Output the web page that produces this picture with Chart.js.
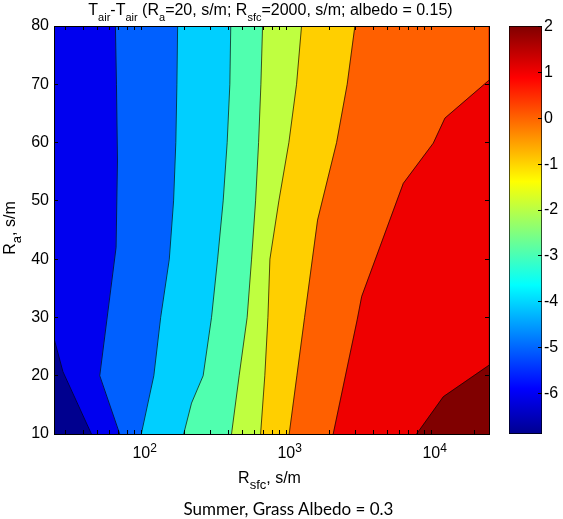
<!DOCTYPE html>
<html><head><meta charset="utf-8">
<script src="https://cdn.jsdelivr.net/npm/chart.js@4.4.1/dist/chart.umd.min.js"></script>
<style>
html,body{margin:0;padding:0;background:#fff;}
#wrap{position:relative;width:563px;height:519px;overflow:hidden;font-family:"Liberation Sans",Arial,sans-serif;color:#000;}
canvas{position:absolute;left:0;top:0;}
.t{position:absolute;white-space:nowrap;font-size:16px;line-height:16px;}
.s{position:relative;top:6px;font-size:11px;line-height:0;}
.s2{position:relative;top:6px;font-size:13px;line-height:0;}
</style></head><body>
<div id="wrap">
<canvas id="main" width="563" height="519"></canvas>
<canvas id="cbar" width="563" height="519"></canvas>
<div class="t" style="left:0;width:541px;top:1.5px;text-align:center;">T<span class="s">air</span>-T<span class="s">air</span> (R<span class="s">a</span>=20, s/m; R<span class="s">sfc</span>=2000, s/m; albedo = 0.15)</div>
<div class="t" style="left:0;width:539px;top:469.5px;text-align:center;font-size:16px;">R<span class="s2">sfc</span>, s/m</div>
<div class="t" style="left:-50.5px;width:120px;top:219.5px;text-align:center;transform:rotate(-90deg);">R<span class="s2">a</span>, s/m</div>
<div class="t" style="left:0;width:577px;top:500.8px;text-align:center;font-family:Lato,'Open Sans',sans-serif;font-size:17px;">Summer, Grass Albedo = 0.3</div>
</div>
<script>
// ---- axis ranges and ticks ----
const rsfcMin = 25, rsfcMax = 25000;       // R_sfc, s/m (log axis)
const raMin = 10, raMax = 80;              // R_a, s/m
const xTickVals = [30,40,50,60,70,80,90,100,200,300,400,500,600,700,800,900,1000,2000,3000,4000,5000,6000,7000,8000,9000,10000,20000];
const xMajor = [100, 1000, 10000];
const xMajorExp = ['2', '3', '4'];
const yTickVals = [10,20,30,40,50,60,70,80];
const cbMin = -6.89, cbMax = 2.02;
const cbTicks = [-6,-5,-4,-3,-2,-1,0,1,2];

// ---- contour levels (T_air difference) ----
const contourLevels = [-6, -5, -4, -3, -2, -1, 0, 1, 2];

// ---- contour lines: R_sfc at R_a ----
const cM6_ra   = [26.4, 20.7, 10];
const cM6_rsfc = [25, 28.8, 45.3];
const cM5_ra   = [80, 70, 57, 42, 20, 10];
const cM5_rsfc = [66.3, 67.4, 68.5, 67, 51.7, 71];
const cM4_ra   = [80, 70, 60, 50, 40, 30, 20, 10];
const cM4_rsfc = [178, 176, 173, 167, 156, 136, 122, 100];
const cM3_ra   = [80, 70, 60, 50, 40, 30, 20, 15.3, 10];
const cM3_rsfc = [414, 408, 391, 367, 336, 305, 267, 222, 196];
const cM2_ra   = [80, 70, 60, 50, 40, 30, 20, 10];
const cM2_rsfc = [686, 668, 644, 614, 576, 537, 473, 419];
const cM1_ra   = [80, 70, 60, 50, 40, 30, 20, 10];
const cM1_rsfc = [1274, 1177, 1042, 889, 771, 747, 711, 665];
const c0_ra    = [80, 70, 60, 46.7, 30, 20, 10];
const c0_rsfc  = [2972, 2630, 2223, 1643, 1337, 1183, 1047];
const c1_ra    = [70.7, 64.2, 59.9, 53.0, 33.6, 29.6, 10];
const c1_rsfc  = [25000, 12420, 10320, 6410, 3310, 3083, 2106];
const c2_ra    = [21.8, 16.4, 10];
const c2_rsfc  = [25000, 12100, 7920];

// ---- styles ----
const belowColor = 'rgb(0,0,143)';
const bandColors = ['rgb(0,0,239)','rgb(0,96,255)','rgb(0,207,255)','rgb(80,255,175)','rgb(191,255,64)','rgb(255,207,0)','rgb(255,96,0)','rgb(239,0,0)','rgb(128,0,0)'];
const lineColor = 'rgba(0,0,0,0.85)';
const fontFam = '"Liberation Sans", Arial, sans-serif';

const contours = [
  [cM6_rsfc, cM6_ra], [cM5_rsfc, cM5_ra], [cM4_rsfc, cM4_ra], [cM3_rsfc, cM3_ra],
  [cM2_rsfc, cM2_ra], [cM1_rsfc, cM1_ra], [c0_rsfc, c0_ra], [c1_rsfc, c1_ra], [c2_rsfc, c2_ra]
];

// filled region "value above level k" = right of contour k, closed along the plot frame
function regionDataset(k) {
  const [xs, ys] = contours[k];
  const pts = [];
  if (xs[0] === rsfcMin && ys[0] < raMax) pts.push({x: rsfcMin, y: raMax});
  xs.forEach((x, i) => pts.push({x: x, y: ys[i]}));
  pts.push({x: rsfcMax, y: raMin});
  pts.push({x: rsfcMax, y: raMax});
  return {
    label: 'T > ' + contourLevels[k],
    data: pts, showLine: true, fill: 'shape',
    backgroundColor: bandColors[k],
    borderColor: bandColors[k], borderWidth: 0.5, pointRadius: 0
  };
}
// contour line k (black, no fill)
function lineDataset(k) {
  const [xs, ys] = contours[k];
  return {
    label: 'level ' + contourLevels[k],
    data: xs.map((x, i) => ({x: x, y: ys[i]})),
    showLine: true, fill: false,
    borderColor: lineColor, borderWidth: 0.8, pointRadius: 0
  };
}
const datasets = [];
for (let k = 0; k < contours.length; k++) datasets.push(lineDataset(k));   // drawn last (on top)
for (let k = contours.length - 1; k >= 0; k--) datasets.push(regionDataset(k)); // lowest level drawn first

const bgPlugin = {
  id: 'bg',
  beforeDatasetsDraw(chart) {
    const a = chart.chartArea, ctx = chart.ctx;
    ctx.save(); ctx.fillStyle = belowColor;
    ctx.fillRect(a.left, a.top, a.right - a.left, a.bottom - a.top);
    ctx.restore();
  }
};
const expPlugin = {
  id: 'exp',
  afterDraw(chart) {
    const xs = chart.scales.x, ctx = chart.ctx;
    ctx.save();
    ctx.font = '12px ' + fontFam; ctx.fillStyle = '#000';
    ctx.textAlign = 'left'; ctx.textBaseline = 'alphabetic';
    xMajor.forEach((v, i) => {
      ctx.fillText(xMajorExp[i], xs.getPixelForValue(v) + 9, xs.top + 18);
    });
    ctx.restore();
  }
};

const tickFont = {family: fontFam, size: 16};
const gridIn = {drawOnChartArea: false, tickLength: -4, tickColor: '#000', z: 1};
const borderOn = {color: '#000', z: 1};

new Chart(document.getElementById('main'), {
  type: 'scatter',
  data: {datasets},
  plugins: [bgPlugin, expPlugin],
  options: {
    responsive: false, animation: false,
    layout: {padding: {left: 0, top: 26, right: 74, bottom: 45}},
    plugins: {legend: {display: false}, tooltip: {enabled: false}},
    elements: {point: {radius: 0, hoverRadius: 0}, line: {tension: 0}},
    scales: {
      x: {
        type: 'logarithmic', position: 'bottom', min: rsfcMin, max: rsfcMax,
        afterBuildTicks: s => { s.ticks = xTickVals.map(v => ({value: v})); },
        afterFit: s => { s.height = 40; },
        ticks: {autoSkip: false, maxRotation: 0, padding: 14, color: '#000', font: tickFont,
                callback: v => xMajor.includes(v) ? '10' : ''},
        grid: gridIn, border: borderOn
      },
      x2: {
        type: 'logarithmic', position: 'top', min: rsfcMin, max: rsfcMax,
        afterBuildTicks: s => { s.ticks = xTickVals.map(v => ({value: v})); },
        afterFit: s => { s.height = 0; },
        ticks: {display: false}, grid: gridIn, border: borderOn
      },
      y: {
        type: 'linear', position: 'left', min: raMin, max: raMax,
        afterBuildTicks: s => { s.ticks = yTickVals.map(v => ({value: v})); },
        afterFit: s => { s.width = 54; },
        ticks: {padding: 9, color: '#000', font: tickFont},
        grid: gridIn, border: borderOn
      },
      y2: {
        type: 'linear', position: 'right', min: raMin, max: raMax,
        afterBuildTicks: s => { s.ticks = yTickVals.map(v => ({value: v})); },
        afterFit: s => { s.width = 0; },
        ticks: {display: false}, grid: gridIn, border: borderOn
      }
    }
  }
});

// ---- colorbar ----
function jetGradient(chart) {
  const a = chart.chartArea;
  if (!a) return 'rgb(0,0,143)';
  const g = chart.ctx.createLinearGradient(0, a.bottom, 0, a.top);
  g.addColorStop(0, 'rgb(0,0,143)');
  g.addColorStop(0.111, 'rgb(0,0,255)');
  g.addColorStop(0.365, 'rgb(0,255,255)');
  g.addColorStop(0.619, 'rgb(255,255,0)');
  g.addColorStop(0.873, 'rgb(255,0,0)');
  g.addColorStop(1, 'rgb(128,0,0)');
  return g;
}
new Chart(document.getElementById('cbar'), {
  type: 'bar',
  data: {labels: [''], datasets: [{
    data: [[cbMin, cbMax]],
    backgroundColor: ctx => jetGradient(ctx.chart),
    borderColor: '#000', borderWidth: 1, borderSkipped: false,
    barPercentage: 1, categoryPercentage: 1
  }]},
  options: {
    responsive: false, animation: false,
    layout: {padding: {left: 509, top: 26, right: 0, bottom: 85}},
    plugins: {legend: {display: false}, tooltip: {enabled: false}},
    scales: {
      x: {display: false},
      y: {
        position: 'right', min: cbMin, max: cbMax,
        afterBuildTicks: s => { s.ticks = cbTicks.map(v => ({value: v})); },
        afterFit: s => { s.width = 21; },
        ticks: {padding: 6, color: '#000', font: tickFont},
        grid: {drawOnChartArea: false, tickLength: -4, tickColor: '#000', z: 1},
        border: {display: false}
      }
    }
  }
});
</script>
</body></html>
